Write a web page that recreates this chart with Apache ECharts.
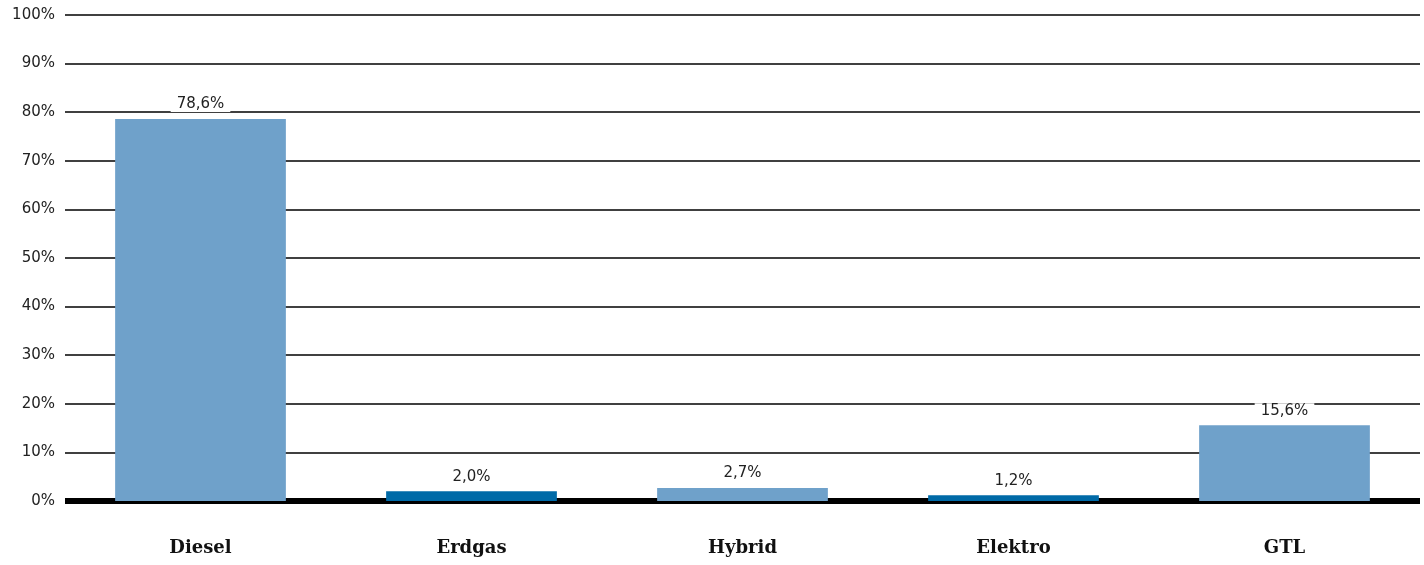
<!DOCTYPE html>
<html>
<head>
<meta charset="utf-8">
<script src="https://cdn.jsdelivr.net/npm/echarts@6/dist/echarts.min.js"></script>
<style>
  html, body { margin: 0; padding: 0; background: #fff; }
  #chart { width: 1424px; height: 565px; }
</style>
</head>
<body>
<div id="chart"></div>
<script>
// Antriebsarten – Anteile in Prozent
const categories = ['Diesel', 'Erdgas', 'Hybrid', 'Elektro', 'GTL'];
const shares = [78.6, 2.0, 2.7, 1.2, 15.6];
const barColors = ['#6fa1ca', '#006aa7', '#6fa1ca', '#006aa7', '#6fa1ca'];
const yTicks = [0, 10, 20, 30, 40, 50, 60, 70, 80, 90, 100];

const fmt = v => v.toFixed(1).replace('.', ',') + '%';

const chart = echarts.init(document.getElementById('chart'));
chart.setOption({
  animation: false,
  grid: { left: 65, right: 4, top: 15, bottom: 64 },
  xAxis: {
    type: 'category',
    data: categories,
    axisLine: { show: true, lineStyle: { color: '#000', width: 6, cap: 'butt' } },
    axisTick: { show: false },
    axisLabel: {
      margin: 38,
      color: '#111',
      fontFamily: 'DejaVu Serif',
      fontWeight: 'bold',
      fontSize: 18
    }
  },
  yAxis: {
    type: 'value',
    min: yTicks[0],
    max: yTicks[yTicks.length - 1],
    interval: 10,
    axisLine: { show: false },
    axisTick: { show: false },
    splitLine: { lineStyle: { color: '#000', width: 1.5 } },
    axisLabel: {
      margin: 10,
      color: '#222',
      fontFamily: 'DejaVu Sans',
      fontSize: 15,
      formatter: v => v + '%'
    }
  },
  series: [{
    type: 'bar',
    barWidth: '63%',
    data: shares.map((v, i) => ({ value: v, itemStyle: { color: barColors[i] } })),
    label: {
      show: true,
      position: 'top',
      distance: 7,
      formatter: p => fmt(p.value),
      color: '#222',
      fontFamily: 'DejaVu Sans',
      fontSize: 15,
      backgroundColor: '#fff',
      padding: [0, 6, 0, 6]
    }
  }]
});
</script>
</body>
</html>
